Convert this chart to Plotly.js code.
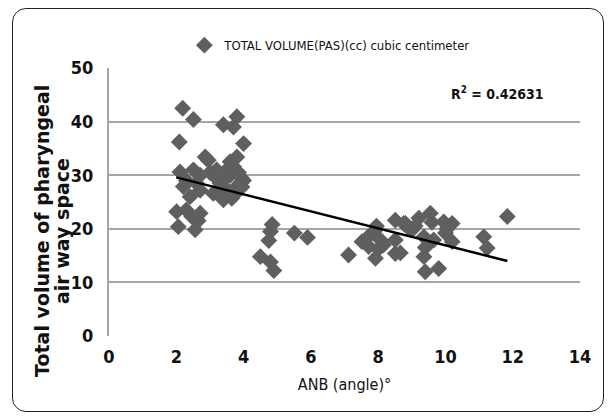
<!DOCTYPE html>
<html>
<head>
<meta charset="utf-8">
<script src="https://cdn.plot.ly/plotly-3.0.1.min.js"></script>
<style>
html,body{margin:0;padding:0;background:#fff;}
#wrap{position:relative;width:613px;height:419px;overflow:hidden;}
#chart{position:absolute;left:0;top:0;width:613px;height:419px;}
#frame{position:absolute;left:12px;top:8px;width:590px;height:402px;border:1.5px solid #222;border-radius:14px;pointer-events:none;}
</style>
</head>
<body>
<div id="wrap"><div id="chart"></div><div id="frame"></div></div>
<script>
// ANB angle (degrees)
const anb = [
  2.19,2.51,2.09,3.40,3.80,3.70,4.00,2.86,3.80,2.11,2.51,2.71,3.15,3.50,3.70,3.95,
  2.21,2.71,2.41,3.10,3.40,3.65,3.80,2.01,2.46,2.71,2.06,2.56,
  3.30,3.45,3.55,3.60,3.90,3.30,2.30,2.60,3.00,3.20,3.75,2.65,2.30,3.60,3.85,4.00,3.95,2.95,
  4.85,4.80,4.75,4.50,4.80,4.90,
  5.51,5.90,
  7.12,7.52,7.72,7.92,7.92,8.07,8.16,8.51,8.76,8.51,8.51,7.70,7.95,8.00,
  8.81,9.01,9.21,9.55,9.95,10.20,9.36,9.65,10.00,10.20,9.36,9.40,9.80,8.66,9.10,9.60,9.40,10.05,8.90,
  11.14,11.24,11.84
];
// Total volume of PAS (cc)
const volume = [
  42.5,40.4,36.2,39.4,40.9,39.0,35.9,33.4,33.4,30.6,31.0,30.0,29.7,31.0,31.6,29.4,
  27.9,27.2,26.0,26.6,25.4,25.7,27.9,23.2,22.3,22.9,20.4,19.8,
  28.5,29.5,27.0,30.0,28.5,27.0,29.0,28.5,30.5,31.0,26.5,21.5,23.5,32.5,30.5,29.0,27.8,32.8,
  20.8,19.5,17.8,14.8,13.8,12.2,
  19.2,18.4,
  15.1,17.6,16.7,19.8,14.5,17.9,17.0,21.6,21.0,17.9,15.4,18.5,20.5,16.2,
  21.0,19.8,22.0,22.9,21.3,21.0,18.5,17.9,19.2,17.6,14.8,12.0,12.6,15.5,20.5,21.2,16.5,20.0,20.2,
  18.5,16.4,22.3
];
// linear trendline endpoints
const trendX = [2.0, 11.84];
const trendY = [29.6, 14.0];
const xTicks = [0,2,4,6,8,10,12,14];
const yTicks = [0,10,20,30,40,50];
const seriesName = "TOTAL VOLUME(PAS)(cc) cubic centimeter";
const rSquared = "R<sup>2</sup> = 0.42631";
const yTitleLines = ["Total volume of pharyngeal", "air way space"];

const narrow = "'DejaVu Sans Condensed', 'Liberation Sans Narrow', sans-serif";
const wide = "'DejaVu Sans', Verdana, sans-serif";

const data = [
  {
    x: anb, y: volume, type: 'scatter', mode: 'markers', name: seriesName,
    marker: {symbol: 'diamond', size: 13, color: '#5f5f5f'}
  },
  {
    x: trendX, y: trendY, type: 'scatter', mode: 'lines', showlegend: false,
    line: {color: '#000', width: 2.5}, hoverinfo: 'skip'
  }
];

const layout = {
  width: 613, height: 419,
  margin: {l: 109, r: 33, t: 68, b: 83},
  paper_bgcolor: '#fff', plot_bgcolor: '#fff',
  showlegend: true,
  legend: {
    orientation: 'h', x: 0.16, xanchor: 'left', y: 1.085, yanchor: 'middle',
    font: {family: narrow, size: 13, color: '#111'}, bgcolor: 'rgba(0,0,0,0)'
  },
  xaxis: {
    range: [0, 14], tickvals: xTicks, ticktext: xTicks.map(String),
    showgrid: false, zeroline: false, showline: false,
    ticks: '', ticklabelstandoff: 8,
    tickfont: {family: narrow, size: 18, color: '#111', weight: 'bold'},
    title: {text: 'ANB (angle)°', font: {family: narrow, size: 16, color: '#111'}, standoff: 12}
  },
  yaxis: {
    range: [0, 50], tickvals: yTicks, ticktext: yTicks.map(String),
    showgrid: true, gridcolor: '#a6a6a6', gridwidth: 2,
    zeroline: false, showline: true, linecolor: '#a6a6a6', linewidth: 2,
    ticks: 'outside', ticklen: 10, tickcolor: 'rgba(0,0,0,0)',
    tickfont: {family: narrow, size: 18, color: '#111', weight: 'bold'}
  },
  annotations: [
    {
      xref: 'paper', yref: 'paper', x: 0, y: (336 - 231) / 268, xshift: -67,
      xanchor: 'center', yanchor: 'middle',
      text: yTitleLines[0], showarrow: false,
      textangle: -90, font: {family: wide, size: 19, color: '#111', weight: 'bold'}
    },
    {
      xref: 'paper', yref: 'paper', x: 0, y: (336 - 231) / 268, xshift: -47,
      xanchor: 'center', yanchor: 'middle',
      text: yTitleLines[1], showarrow: false,
      textangle: -90, font: {family: wide, size: 19, color: '#111', weight: 'bold'}
    },
    {
      xref: 'paper', yref: 'paper', x: (497 - 109) / 471, y: 0.905, xanchor: 'center', yanchor: 'middle',
      text: rSquared, showarrow: false,
      font: {family: narrow, size: 14, color: '#111', weight: 'bold'}
    }
  ]
};

Plotly.newPlot('chart', data, layout, {displayModeBar: false, staticPlot: true});
</script>
</body>
</html>
